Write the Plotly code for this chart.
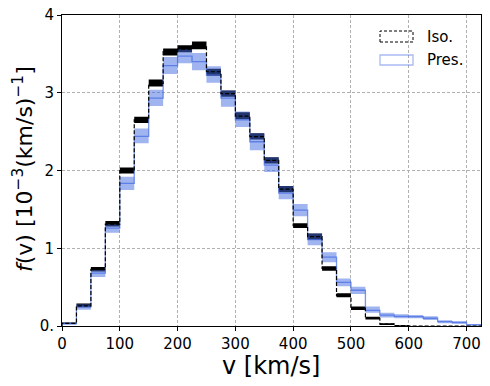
import plotly.graph_objects as go

# Bin edges (km/s)
bin_edges = [0, 25, 50, 75, 100, 125, 150, 175, 200, 225, 250, 275, 300, 325, 350,
             375, 400, 425, 450, 475, 500, 525, 550, 575, 600, 625, 650, 675, 700, 725]

# Isotropic model: mean and band (10^-3 (km/s)^-1)
iso_mean = [0.035, 0.26, 0.73, 1.31, 2.00, 2.65, 3.12, 3.53, 3.56, 3.61, 3.27, 2.99, 2.70,
            2.435, 2.13, 1.76, 1.29, 1.15, 0.74, 0.39, 0.23, 0.10, 0.025, 0.005, 0.0,
            0.0, 0.0, 0.0, 0.0]
iso_lo = [0.025, 0.24, 0.70, 1.28, 1.96, 2.61, 3.08, 3.48, 3.52, 3.56, 3.22, 2.95, 2.66,
          2.40, 2.09, 1.72, 1.26, 1.11, 0.71, 0.37, 0.205, 0.085, 0.013, 0.0, 0.0,
          0.0, 0.0, 0.0, 0.0]
iso_hi = [0.045, 0.29, 0.76, 1.35, 2.04, 2.69, 3.17, 3.57, 3.61, 3.66, 3.31, 3.03, 2.75,
          2.48, 2.17, 1.80, 1.32, 1.19, 0.77, 0.42, 0.25, 0.12, 0.035, 0.01, 0.0,
          0.0, 0.0, 0.0, 0.0]

# Pressure model
pres_mean = [0.03, 0.245, 0.68, 1.26, 1.835, 2.44, 2.93, 3.35, 3.47, 3.40, 3.23, 2.93, 2.65,
             2.37, 2.07, 1.71, 1.49, 1.11, 0.885, 0.56, 0.46, 0.20, 0.14, 0.125, 0.12,
             0.10, 0.055, 0.045, 0.015]
pres_lo = [0.015, 0.21, 0.63, 1.20, 1.75, 2.35, 2.83, 3.24, 3.38, 3.29, 3.13, 2.82, 2.56,
           2.26, 1.98, 1.63, 1.41, 1.04, 0.82, 0.51, 0.41, 0.17, 0.11, 0.10, 0.10,
           0.077, 0.035, 0.03, 0.005]
pres_hi = [0.045, 0.28, 0.72, 1.31, 1.92, 2.54, 3.04, 3.46, 3.56, 3.51, 3.34, 3.03, 2.76,
           2.48, 2.17, 1.80, 1.57, 1.19, 0.95, 0.61, 0.505, 0.25, 0.17, 0.15, 0.14,
           0.125, 0.075, 0.06, 0.025]

x_ticks = [0, 100, 200, 300, 400, 500, 600, 700]
y_ticks = [0, 1, 2, 3, 4]
y_ticklabels = ["0.", "1", "2", "3", "4"]
x_title = "v [km/s]"
y_title = "<i>f</i>(v) [10<sup>−3</sup>(km/s)<sup>−1</sup>]"
legend_labels = ["Iso.", "Pres."]

BLUE = "65,105,225"


def band_y(vals):
    return list(vals) + [vals[-1]]


def outline(vals):
    xs = [bin_edges[0]] + list(bin_edges) + [bin_edges[-1]]
    ys = [0] + list(vals) + [vals[-1]] + [0]
    return xs, ys


fig = go.Figure()

# Iso band (black)
fig.add_trace(go.Scatter(x=bin_edges, y=band_y(iso_lo), mode="lines", line_shape="hv",
                         line=dict(width=0), showlegend=False, hoverinfo="skip"))
fig.add_trace(go.Scatter(x=bin_edges, y=band_y(iso_hi), mode="lines", line_shape="hv",
                         line=dict(width=0), fill="tonexty", fillcolor="rgba(0,0,0,1)",
                         showlegend=False, hoverinfo="skip"))
# Pres band (blue)
fig.add_trace(go.Scatter(x=bin_edges, y=band_y(pres_lo), mode="lines", line_shape="hv",
                         line=dict(width=0), showlegend=False, hoverinfo="skip"))
fig.add_trace(go.Scatter(x=bin_edges, y=band_y(pres_hi), mode="lines", line_shape="hv",
                         line=dict(width=0), fill="tonexty",
                         fillcolor=f"rgba({BLUE},0.5)", showlegend=False, hoverinfo="skip"))
# Pres mean line
px_, py_ = outline(pres_mean)
fig.add_trace(go.Scatter(x=px_, y=py_, mode="lines", line_shape="hv",
                         line=dict(color=f"rgba({BLUE},0.7)", width=1.3),
                         showlegend=False))
# Iso mean line (dashed)
ix_, iy_ = outline(iso_mean)
fig.add_trace(go.Scatter(x=ix_, y=iy_, mode="lines", line_shape="hv",
                         line=dict(color="black", width=1.2, dash="4px,2px"),
                         showlegend=False))

# Plot area in screen pixels -> paper coords
PL, PR, PT, PB = 62, 481, 15, 326


def sx(p):
    return (p - PL) / float(PR - PL)


def sy(p):
    return (PB - p) / float(PB - PT)


shapes = [
    dict(type="rect", xref="paper", yref="paper",
         x0=sx(380), x1=sx(413), y0=sy(42), y1=sy(31),
         line=dict(color="black", width=1, dash="3px,2px"), fillcolor="rgba(0,0,0,0)"),
    dict(type="rect", xref="paper", yref="paper",
         x0=sx(380), x1=sx(413), y0=sy(65), y1=sy(55),
         line=dict(color=f"rgba({BLUE},0.45)", width=1.3), fillcolor="rgba(0,0,0,0)"),
]
annotations = [
    dict(text=legend_labels[0], xref="paper", yref="paper", x=sx(425), y=sy(37),
         xanchor="left", yanchor="middle", showarrow=False,
         font=dict(family="DejaVu Sans", size=15, color="black")),
    dict(text=legend_labels[1], xref="paper", yref="paper", x=sx(425), y=sy(60),
         xanchor="left", yanchor="middle", showarrow=False,
         font=dict(family="DejaVu Sans", size=15, color="black")),
    dict(text=x_title, xref="paper", yref="paper", x=sx(271), y=sy(366),
         xanchor="center", yanchor="middle", showarrow=False,
         font=dict(family="DejaVu Sans", size=24, color="black")),
    dict(text=y_title, xref="paper", yref="paper", x=sx(23), y=sy(169),
         xanchor="center", yanchor="middle", showarrow=False, textangle=-90,
         font=dict(family="DejaVu Sans", size=22, color="black")),
]

axis_common = dict(
    showline=True, linecolor="black", linewidth=1, mirror=True,
    ticks="outside", ticklen=4, tickwidth=1, tickcolor="black",
    showgrid=True, gridcolor="#b0b0b0", gridwidth=0.8, griddash="3px,2px",
    zeroline=False, automargin=False, ticklabeloverflow="allow",
    tickfont=dict(family="DejaVu Sans", size=15, color="black"),
)

OFF = 8  # default page body margin
W, H = 490 - OFF, 386 - OFF
fig.update_layout(
    width=W, height=H,
    margin=dict(l=PL - OFF, r=W - (PR - OFF), t=PT - OFF, b=H - (PB - OFF)),
    paper_bgcolor="white", plot_bgcolor="white",
    font=dict(family="DejaVu Sans", color="black"),
    xaxis=dict(range=[0, 725], tickvals=x_ticks, **axis_common),
    yaxis=dict(range=[0, 4], tickvals=y_ticks, ticktext=y_ticklabels, **axis_common),
    shapes=shapes, annotations=annotations, showlegend=False,
)

fig.write_html("out.html")
